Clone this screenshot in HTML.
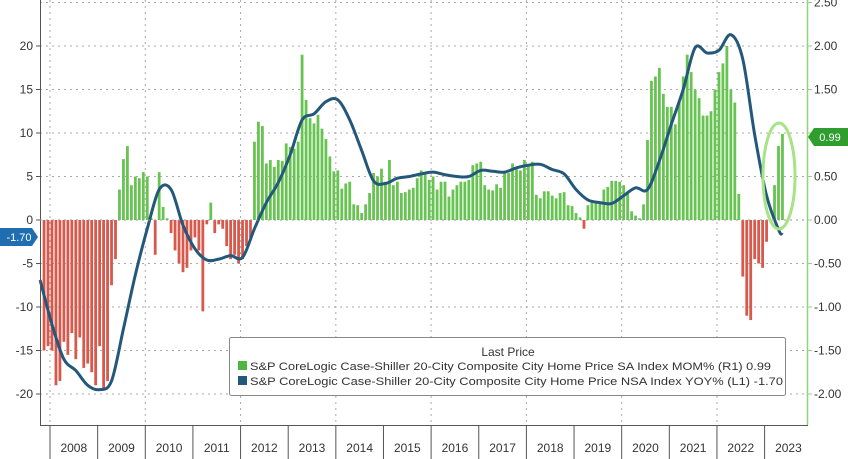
<!DOCTYPE html>
<html><head><meta charset="utf-8"><style>
body{margin:0;background:#fff;}
svg{display:block;font-family:"Liberation Sans",sans-serif;}
</style></head><body>
<svg id="chart" width="848" height="459" viewBox="0 0 848 459" xmlns="http://www.w3.org/2000/svg">
<g id="grid"></g>
<g id="bars"></g>
<path id="yoy" fill="none" stroke="#24587a" stroke-width="3" stroke-linejoin="round"/>
<ellipse cx="779" cy="176" rx="16" ry="53" fill="none" stroke="#a6e486" stroke-width="3"/>
<g id="axes"></g>
<g>
<rect x="229.5" y="337.5" width="556" height="58" fill="#fff" stroke="#888" stroke-width="1" rx="2"/>
<text x="508" y="356" font-size="12" fill="#333" text-anchor="middle">Last Price</text>
<rect x="238" y="361" width="9" height="9" fill="#4cb840"/>
<text x="250" y="370" font-size="11.4" fill="#333" textLength="521" lengthAdjust="spacingAndGlyphs">S&amp;P CoreLogic Case-Shiller 20-City Composite City Home Price SA Index MOM%  (R1)  0.99</text>
<rect x="238" y="376" width="9" height="9" fill="#24587a"/>
<text x="250" y="385" font-size="11.4" fill="#333" textLength="533" lengthAdjust="spacingAndGlyphs">S&amp;P CoreLogic Case-Shiller 20-City Composite City Home Price NSA Index YOY%  (L1)  -1.70</text>
</g>
<g>
<path d="M0 228 H32 L38 237 L32 246 H0 Z" fill="#1f6fb0"/>
<text x="19" y="241" font-size="11" fill="#fff" text-anchor="middle">-1.70</text>
</g>
<g>
<path d="M808 137 L814 128 H848 V146 H814 Z" fill="#2f9e2f"/>
<text x="830" y="141" font-size="11" fill="#fff" text-anchor="middle">0.99</text>
</g>
</svg>
<script>
// Monthly MOM% (right axis), first month = Nov 2007 (month index -2)
const momStart = -2;
const momValues = [
-1.5,-1.45,-1.5,-1.9,-1.85,-1.4,-1.55,-1.3,-1.6,-1.35,-1.7,-1.65,-1.75,-1.9,-1.45,-1.95,-1.85,-0.75,-0.45,
0.35,0.7,0.85,0.4,0.5,0.48,0.55,0.5,0.02,-0.4,0.55,0.15,
0.02,-0.15,-0.35,-0.5,-0.6,-0.55,-0.35,-0.2,-0.35,-1.05,-0.05,0.2,-0.15,-0.05,-0.1,-0.3,-0.45,-0.4,-0.5,-0.45,-0.3,-0.2,
0.9,1.13,1.08,0.65,0.69,0.61,0.69,0.68,0.88,0.84,
0.82,0.9,1.9,1.38,1.17,1.11,1.21,1.05,0.93,0.73,
0.56,0.57,0.36,0.42,0.44,0.18,0.17,0.08,0.18,0.31,
0.54,0.5,0.59,0.44,0.69,0.4,0.44,0.31,0.32,0.35,
0.37,0.48,0.57,0.54,0.46,0.5,0.35,0.44,0.44,0.27,
0.35,0.4,0.44,0.44,0.46,0.63,0.65,0.67,0.4,0.35,
0.34,0.41,0.37,0.56,0.54,0.65,0.59,0.57,0.69,0.63,
0.67,0.29,0.25,0.33,0.33,0.28,0.25,0.31,0.32,0.17,
0.16,0.08,
0.03,-0.1,0.17,0.2,0.2,0.2,0.35,0.38,0.45,0.45,0.44,0.4,0.3,0.1,0.05,0.02,
0.18,0.92,1.6,1.65,1.75,1.45,1.3,1.3,1.1,1.35,1.65,1.9,1.7,1.5,1.4,1.2,1.2,1.25,1.5,1.7,1.8,2.0,1.5,1.35,0.3,
-0.65,-1.1,-1.15,-0.45,-0.5,-0.55,-0.25,0.0,0.4,0.85,0.99];
// YoY% (left axis) sampled quarterly
const yoyMonths = [-3,0,3,6,9,12,15,18,21,24,27,30,33,36,39,42,45,48,51,54,57,60,63,66,69,72,75,78,81,84,87,90,93,96,99,102,105,108,111,114,117,120,123,126,129,132,135,138,141,144,147,150,153,156,159,162,165,168,171,174,177,180,183,184];
const yoyValues = [-6.9,-12,-16,-17.3,-19,-19.5,-18.5,-12.5,-6.3,-1,3.5,3.5,-0.6,-3.3,-4.6,-4.5,-4.1,-4.3,-1,2,4.3,7.5,11.5,12.2,13.6,13.8,11.5,8,4.5,4.2,4.8,5,5.3,5.5,5.2,5,5,5.7,5.6,5.5,6,6.3,6.4,5.8,5.3,3.5,2.3,2,1.9,2.8,3.7,3.5,6.8,11,15,19.8,19.2,19.5,21.3,18.5,9.8,2.8,-1.1,-1.7];
const leftTicks = [20,15,10,5,0,-5,-10,-15,-20];
const rightTicks = ["2.50","2.00","1.50","1.00","0.50","0.00","-0.50","-1.00","-1.50","-2.00"];
const years = ["2008","2009","2010","2011","2012","2013","2014","2015","2016","2017","2018","2019","2020","2021","2022","2023"];

const NS="http://www.w3.org/2000/svg";
const X0=50, MW=3.97;
const xM = m => X0+(m+0.5)*MW;
const yL = v => 220 - v*8.7;
const yR = v => 220 - v*87;
function mk(tag, attrs, parent){const e=document.createElementNS(NS,tag);for(const k in attrs)e.setAttribute(k,attrs[k]);parent.appendChild(e);return e;}
const grid=document.getElementById('grid'), bars=document.getElementById('bars'), axes=document.getElementById('axes');
for(const v of [25,20,15,10,5,-5,-10,-15,-20]){
  const l=mk('line',{x1:40,x2:807,y1:yL(v),y2:yL(v),stroke:'#aaa','stroke-width':1,'stroke-dasharray':'2,4'},grid);
  
  
}
for(let i=0;i<years.length;i+=2){
  const x=X0+i*12*MW;
  const l=mk('line',{x1:x,x2:x,y1:0,y2:425,stroke:'#aaa','stroke-width':1,'stroke-dasharray':'2,4'},grid);
  
  
}
momValues.forEach((v,i)=>{
  const m=momStart+i, y=yR(v), y0=yR(0);
  const r=mk('rect',{x:xM(m)-1.4,y:Math.min(y,y0),width:2.8,height:Math.max(0.5,Math.abs(y-y0)),fill:v>=0?'#68c452':'#d9584c'},bars);
  
  
});
const pts=yoyMonths.map((m,i)=>[xM(m),yL(yoyValues[i])]);
let d=`M${pts[0][0]},${pts[0][1]}`;
for(let i=0;i<pts.length-1;i++){
  const p0=pts[Math.max(0,i-1)],p1=pts[i],p2=pts[i+1],p3=pts[Math.min(pts.length-1,i+2)];
  const c1=[p1[0]+(p2[0]-p0[0])/6,p1[1]+(p2[1]-p0[1])/6], c2=[p2[0]-(p3[0]-p1[0])/6,p2[1]-(p3[1]-p1[1])/6];
  d+=` C${c1[0]},${c1[1]} ${c2[0]},${c2[1]} ${p2[0]},${p2[1]}`;
}
document.getElementById('yoy').setAttribute('d',d);
mk('line',{x1:40.5,x2:40.5,y1:0,y2:425,stroke:'#555','stroke-width':1},axes);
mk('line',{x1:807.5,x2:807.5,y1:0,y2:425,stroke:'#8fd47a','stroke-width':1.5},axes);
mk('line',{x1:40,x2:808,y1:425.5,y2:425.5,stroke:'#555','stroke-width':1},axes);
mk('line',{x1:40,x2:807,y1:yL(0),y2:yL(0),stroke:'#999','stroke-width':1,'stroke-dasharray':'2,4'},axes);
leftTicks.forEach(v=>{
  mk('line',{x1:36,x2:40,y1:yL(v),y2:yL(v),stroke:'#555'},axes);
  const t=mk('text',{x:33,y:yL(v)+4,'font-size':12,fill:'#333','text-anchor':'end'},axes);
  t.textContent=String(v);
  
  
});
rightTicks.forEach(s=>{
  const v=parseFloat(s);
  mk('line',{x1:807,x2:812,y1:yR(v),y2:yR(v),stroke:'#8fd47a'},axes);
  const t=mk('text',{x:814,y:yR(v)+4,'font-size':12,fill:'#333'},axes);
  t.textContent=s;
  
  
});
years.forEach((yr,i)=>{
  const x=X0+i*12*MW;
  mk('line',{x1:x,x2:x,y1:425,y2:459,stroke:'#555'},axes);
  const t=mk('text',{x:x+6*MW,y:452,'font-size':12,fill:'#333','text-anchor':'middle'},axes);
  t.textContent=yr;
  
  
});
</script>
</body></html>
